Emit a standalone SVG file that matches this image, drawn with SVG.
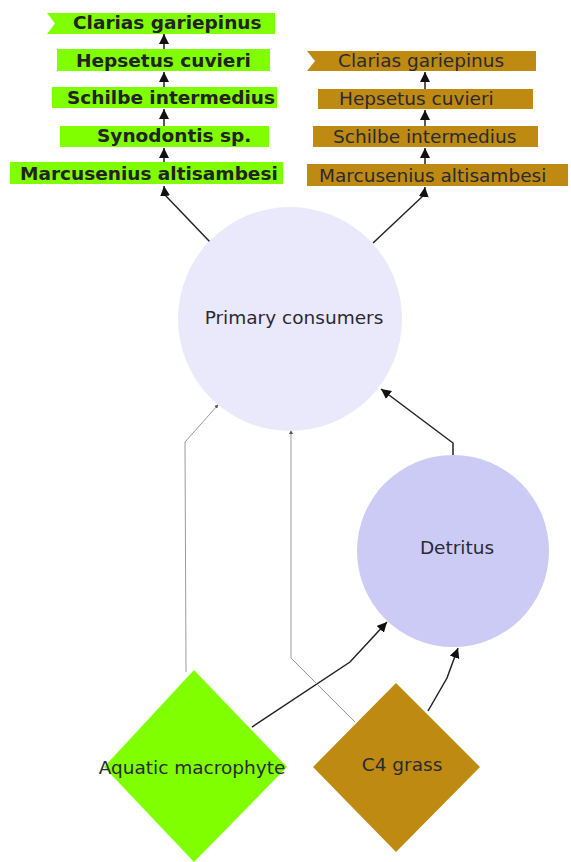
<svg xmlns="http://www.w3.org/2000/svg" width="571" height="862" viewBox="0 0 571 862">
  <style>
    .lbl { font-family: "DejaVu Sans", Verdana, sans-serif; font-size: 18.5px; fill: #2a2a33; }
    .bold { font-weight: bold; fill: #222222; }
    .green { fill: #80ff00; }
    .brown { fill: #be8a12; }
    .flow { fill: none; stroke: #222222; stroke-width: 1.5; }
    .thin { fill: none; stroke: #9a9a9a; stroke-width: 1; }
  </style>
  <defs>
    <marker id="arrow" markerUnits="userSpaceOnUse" markerWidth="12" markerHeight="12" refX="10" refY="5" orient="auto">
      <path d="M0,0 L10,5 L0,10 Z" fill="#111111"/>
    </marker>
    <marker id="dot" markerUnits="userSpaceOnUse" markerWidth="4" markerHeight="4" refX="2" refY="2" orient="auto">
      <path d="M0,0 L4,2 L0,4 Z" fill="#555555"/>
    </marker>
  </defs>

  <rect width="571" height="862" fill="#ffffff"/>

  <!-- connectors -->
  <g id="connectors">
    <!-- left chain -->
    <line class="flow" x1="164" y1="49" x2="164" y2="34" marker-end="url(#arrow)"/>
    <line class="flow" x1="164" y1="87" x2="164" y2="72" marker-end="url(#arrow)"/>
    <line class="flow" x1="164" y1="126" x2="164" y2="109" marker-end="url(#arrow)"/>
    <line class="flow" x1="164" y1="162" x2="164" y2="148" marker-end="url(#arrow)"/>
    <!-- right chain -->
    <line class="flow" x1="425" y1="89" x2="425" y2="72" marker-end="url(#arrow)"/>
    <line class="flow" x1="425" y1="126" x2="425" y2="110" marker-end="url(#arrow)"/>
    <line class="flow" x1="425" y1="164" x2="425" y2="148" marker-end="url(#arrow)"/>
    <!-- primary consumers to fish chains -->
    <polyline class="flow" points="210,242 165,195 164,186" marker-end="url(#arrow)"/>
    <polyline class="flow" points="373,243 424,195 425,187" marker-end="url(#arrow)"/>
    <!-- detritus to primary consumers -->
    <polyline class="flow" points="453,455 453,443 381,389" marker-end="url(#arrow)"/>
    <!-- macrophyte to detritus -->
    <polyline class="flow" points="252,727 350,662 387,622" marker-end="url(#arrow)"/>
    <!-- C4 grass to detritus -->
    <polyline class="flow" points="428,711 447,678 458,648" marker-end="url(#arrow)"/>
    <!-- thin links to primary consumers -->
    <polyline class="thin" points="186,672 185,442 217,406" marker-end="url(#dot)"/>
    <polyline class="thin" points="355,722 291,658 291,432" marker-end="url(#dot)"/>
  </g>

  <!-- green fish chain -->
  <g id="g-clarias">
    <path class="green" d="M47,13 L275,13 L275,34 L47,34 L55,23.5 Z"/>
    <text class="lbl bold" x="73" y="29">Clarias gariepinus</text>
  </g>
  <g id="g-hepsetus">
    <rect class="green" x="57" y="49" width="213" height="22"/>
    <text class="lbl bold" x="76" y="67">Hepsetus cuvieri</text>
  </g>
  <g id="g-schilbe">
    <rect class="green" x="52" y="87" width="225" height="21"/>
    <text class="lbl bold" x="67" y="104">Schilbe intermedius</text>
  </g>
  <g id="g-synodontis">
    <rect class="green" x="60" y="126" width="209" height="21"/>
    <text class="lbl bold" x="97" y="142">Synodontis sp.</text>
  </g>
  <g id="g-marcusenius">
    <rect class="green" x="10" y="162" width="273" height="22"/>
    <text class="lbl bold" x="20" y="180">Marcusenius altisambesi</text>
  </g>

  <!-- brown fish chain -->
  <g id="b-clarias">
    <path class="brown" d="M307,51 L536,51 L536,71 L307,71 L315,61 Z"/>
    <text class="lbl" x="338" y="67">Clarias gariepinus</text>
  </g>
  <g id="b-hepsetus">
    <rect class="brown" x="318" y="89" width="215" height="20"/>
    <text class="lbl" x="339" y="105">Hepsetus cuvieri</text>
  </g>
  <g id="b-schilbe">
    <rect class="brown" x="313" y="126" width="225" height="21"/>
    <text class="lbl" x="333" y="143">Schilbe intermedius</text>
  </g>
  <g id="b-marcusenius">
    <rect class="brown" x="307" y="164" width="261" height="22"/>
    <text class="lbl" x="319" y="182">Marcusenius altisambesi</text>
  </g>

  <!-- consumers and detritus -->
  <g id="primary-consumers">
    <circle cx="290" cy="319" r="112" fill="#e9e9fb"/>
    <text class="lbl" x="294" y="324" text-anchor="middle">Primary consumers</text>
  </g>
  <g id="detritus">
    <circle cx="453" cy="551" r="96" fill="#cbcbf6"/>
    <text class="lbl" x="457" y="554" text-anchor="middle">Detritus</text>
  </g>

  <!-- producers -->
  <g id="aquatic-macrophyte">
    <path d="M194,670 L287,767 L194,862 L104,767 Z" fill="#80ff00"/>
    <text class="lbl" x="192" y="774" text-anchor="middle">Aquatic macrophyte</text>
  </g>
  <g id="c4-grass">
    <path d="M396,683 L480,767 L396,852 L313,767 Z" fill="#be8a12"/>
    <text class="lbl" x="402" y="771" text-anchor="middle">C4 grass</text>
  </g>
</svg>
